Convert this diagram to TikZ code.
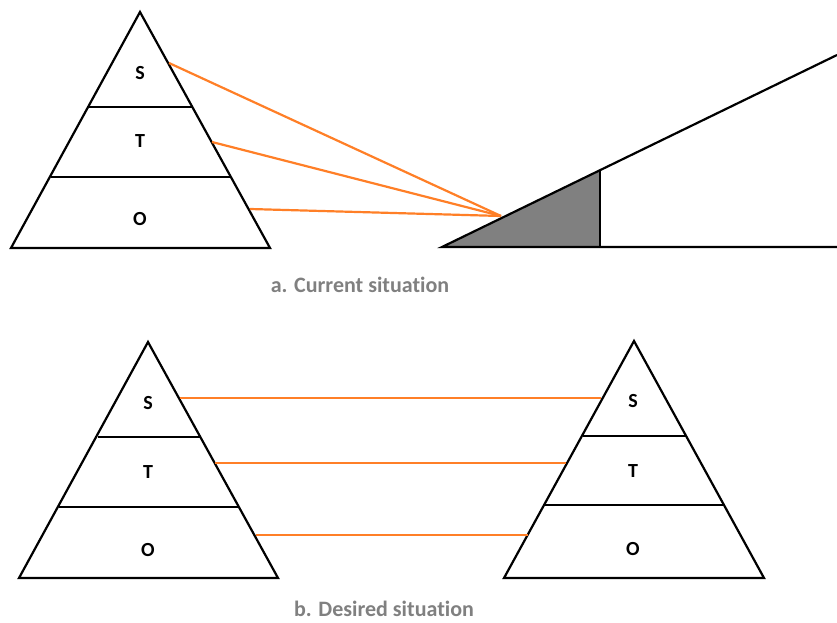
\documentclass[tikz,border=0pt]{standalone}
\usepackage{fontspec}
\setmainfont{Carlito}[Ligatures=NoCommon]
\definecolor{conn}{RGB}{255,127,39}
\definecolor{capgray}{RGB}{128,128,128}
\definecolor{wedgegray}{RGB}{128,128,128}
\begin{document}
\begin{tikzpicture}[x=1pt,y=-1pt,
  outline/.style={draw=black,line width=2.2pt,line join=miter},
  divider/.style={draw=black,line width=2.2pt},
  lbl/.style={font=\bfseries\fontsize{20}{24}\selectfont,inner sep=0pt},
  captxt/.style={font=\bfseries\fontsize{22}{26}\selectfont,text=capgray,inner sep=0pt},
  link/.style={draw=conn,line width=2.2pt}]
\useasboundingbox (0,0) rectangle (837,623);
% ---- top-left pyramid
\draw[outline] (140,12) -- (270,248) -- (11,248) -- cycle;
\draw[divider] (89,107) -- (192,107);
\draw[divider] (51,177) -- (230,177);
\node[lbl] (s1) at (140,73) {S};
\node[lbl] (t1) at (140,141) {T};
\node[lbl] (o1) at (140,219) {O};
\coordinate (s1e) at (169,63);
\coordinate (t1e) at (212,142);
\coordinate (o1e) at (250,209);
% ---- wedge
\fill[fill=wedgegray] (442,247) -- (600,247) -- (600,170) -- cycle;
\draw[outline] (837,55) -- (442,247) -- (837,247);
\draw[divider] (600,247) -- (600,170);
\coordinate (focus) at (501,216);
\draw[link] (s1e) -- (focus);
\draw[link] (t1e) -- (focus);
\draw[link] (o1e) -- (focus);
\node[captxt] (capa) at (360,285) {a. Current situation};
% ---- bottom-left pyramid
\draw[outline] (148,342) -- (278,578) -- (19,578) -- cycle;
\draw[divider] (98,437) -- (200,437);
\draw[divider] (59,507) -- (238,507);
\node[lbl] (s2) at (148,403) {S};
\node[lbl] (t2) at (148,472) {T};
\node[lbl] (o2) at (148,550) {O};
% ---- bottom-right pyramid
\draw[outline] (634,341) -- (764,578) -- (504,578) -- cycle;
\draw[divider] (583,436) -- (686,436);
\draw[divider] (545,505) -- (723,505);
\node[lbl] (s3) at (633,401) {S};
\node[lbl] (t3) at (633,471) {T};
\node[lbl] (o3) at (633,549) {O};
\coordinate (s2e) at (180,398);
\coordinate (t2e) at (215,463);
\coordinate (o2e) at (256,535);
\coordinate (s3e) at (601,398);
\coordinate (t3e) at (566,463);
\coordinate (o3e) at (528,535);
\draw[link] (s2e) -- (s3e);
\draw[link] (t2e) -- (t3e);
\draw[link] (o2e) -- (o3e);
\node[captxt] (capb) at (384,609) {b. Desired situation};
\end{tikzpicture}
\end{document}
